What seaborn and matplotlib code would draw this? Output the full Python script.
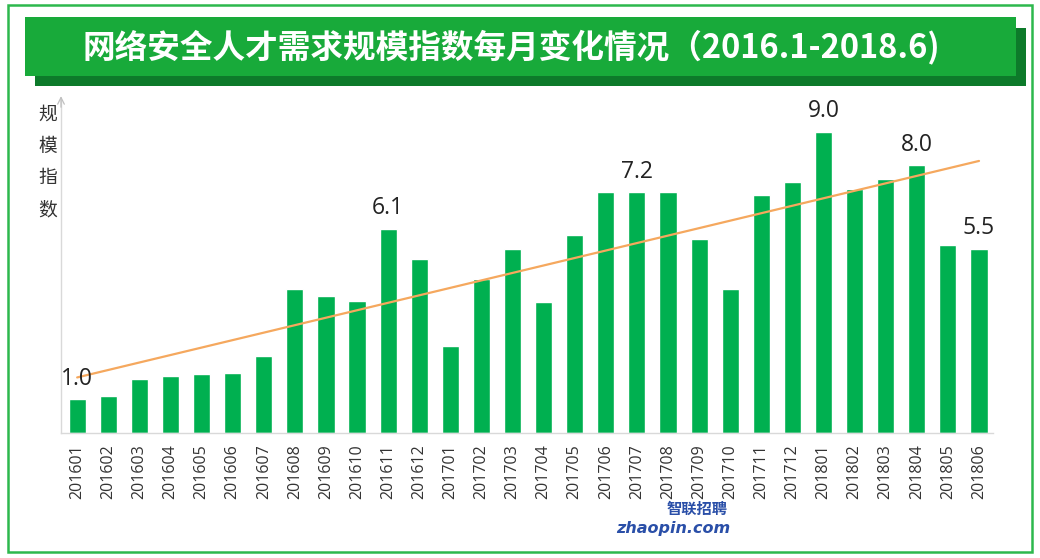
import numpy as np
import pandas as pd
import matplotlib
matplotlib.use("Agg")
import matplotlib.pyplot as plt
from matplotlib.patches import Rectangle
import seaborn as sns

months = ["201601", "201602", "201603", "201604", "201605", "201606", "201607",
          "201608", "201609", "201610", "201611", "201612", "201701", "201702",
          "201703", "201704", "201705", "201706", "201707", "201708", "201709",
          "201710", "201711", "201712", "201801", "201802", "201803", "201804",
          "201805", "201806"]
index_values = [1.0, 1.1, 1.6, 1.7, 1.75, 1.8, 2.3, 4.3, 4.1, 3.95, 6.1, 5.2,
                2.6, 4.6, 5.5, 3.9, 5.9, 7.2, 7.2, 7.2, 5.8, 4.3, 7.1, 7.5,
                9.0, 7.3, 7.6, 8.0, 5.6, 5.5]
labeled_months = ["201601", "201611", "201707", "201801", "201804", "201806"]

title = "网络安全人才需求规模指数每月变化情况（2016.1-2018.6)"
ylabel = "规\n模\n指\n数"

sns.set_theme(style="white")
plt.rcParams['font.family'] = ['Noto Sans CJK SC', 'DejaVu Sans']

W, H = 1040, 558
fig = plt.figure(figsize=(W / 100, H / 100), dpi=100)
fig.patch.set_facecolor("white")

def px(x0, y0, x1, y1):
    return (x0 / W, 1 - y1 / H, (x1 - x0) / W, (y1 - y0) / H)

# outer border
x, y, w, h = px(8, 5, 1032, 552)
fig.patches.append(Rectangle((x, y), w, h, transform=fig.transFigure,
                             fill=False, edgecolor="#2DB84D", linewidth=1.8))
# banner shadow and banner
x, y, w, h = px(35, 28, 1026, 86)
fig.patches.append(Rectangle((x, y), w, h, transform=fig.transFigure,
                             facecolor="#0D7A2A", edgecolor="none"))
x, y, w, h = px(25, 17, 1016, 76)
fig.patches.append(Rectangle((x, y), w, h, transform=fig.transFigure,
                             facecolor="#18AA3A", edgecolor="none"))
fig.text(511 / W, 1 - 47 / H, title, color="white", fontsize=23.5,
         fontweight="bold", ha="center", va="center")

ax = fig.add_axes([61 / W, 1 - 432.7 / H, (993 - 61) / W, (432.7 - 100) / H])
df = pd.DataFrame({"month": months, "value": index_values})
sns.barplot(data=df, x="month", y="value", color="#00B050", width=0.55,
            saturation=1, ax=ax)

# linear trend line
xs = np.arange(len(index_values))
k, b = np.polyfit(xs, index_values, 1)
ax.plot(xs, k * xs + b, color="#F5A85E", linewidth=1.6)

for m in labeled_months:
    i = months.index(m)
    ax.annotate(f"{index_values[i]:.1f}", (i, index_values[i]),
                xytext=(0, 6), textcoords="offset points", ha="center",
                va="bottom", fontsize=16.5, color="#222222",
                family=["Open Sans", "DejaVu Sans"])

ax.set_xlim(-0.52, len(months) - 0.55)
ax.set_ylim(0, 9.95)
ax.set_yticks([])
ax.set_xlabel("")
ax.set_ylabel("")
ax.tick_params(axis="x", length=0, pad=8, labelsize=11.5, labelcolor="#333333")
for lab in ax.get_xticklabels():
    lab.set_rotation(90)
    lab.set_family(["Open Sans", "DejaVu Sans"])
for s in ["top", "right"]:
    ax.spines[s].set_visible(False)
for s in ["left", "bottom"]:
    ax.spines[s].set_color("#D9D9D9")
    ax.spines[s].set_linewidth(1.0)
ax.annotate("", xy=(0, 1.02), xytext=(0, 0.97), xycoords="axes fraction",
            arrowprops=dict(arrowstyle="->", color="#BFBFBF", lw=0.9))

fig.text(48 / W, 1 - 162 / H, ylabel, fontsize=13.5, color="#333333",
         ha="center", va="center", linespacing=1.68)

# watermark
fig.text(697 / W, 1 - 509 / H, "智联招聘", fontsize=11, color="#2A4FA8",
         ha="center", va="center", fontweight="bold")
fig.text(673 / W, 1 - 529 / H, "zhaopin.com", fontsize=11.5, color="#2A4FA8",
         ha="center", va="center", fontweight="bold", style="italic",
         family=["DejaVu Sans"])

fig.savefig("out.png", dpi=100, facecolor="white")
